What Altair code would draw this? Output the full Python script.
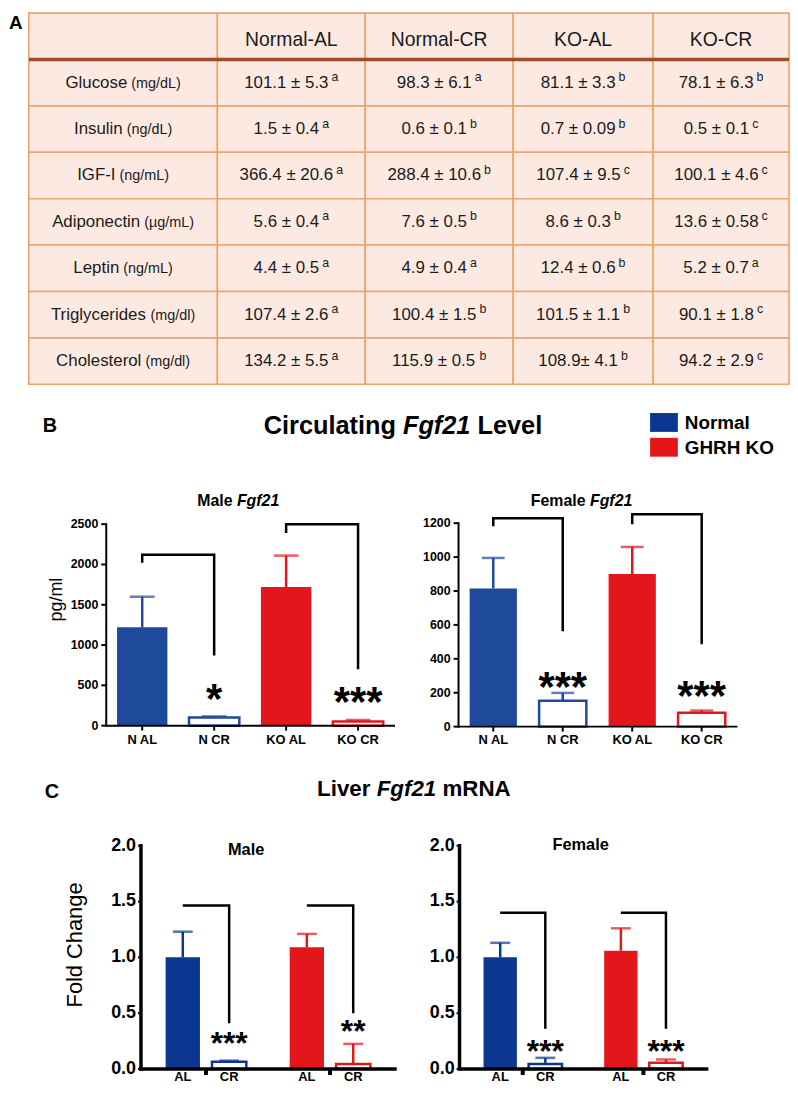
import altair as alt
import pandas as pd

# ---------------- data ----------------
table_columns = ["Normal-AL", "Normal-CR", "KO-AL", "KO-CR"]
measures = ["Glucose", "Insulin", "IGF-I", "Adiponectin", "Leptin", "Triglycerides", "Cholesterol"]
units = ["(mg/dL)", "(ng/dL)", "(ng/mL)", "(µg/mL)", "(ng/mL)", "(mg/dl)", "(mg/dl)"]
normal_al = ["101.1 ± 5.3", "1.5 ± 0.4", "366.4 ± 20.6", "5.6 ± 0.4", "4.4 ± 0.5", "107.4 ± 2.6", "134.2 ± 5.5"]
normal_al_sig = ["a", "a", "a", "a", "a", "a", "a"]
normal_cr = ["98.3 ± 6.1", "0.6 ± 0.1", "288.4 ± 10.6", "7.6 ± 0.5", "4.9 ± 0.4", "100.4 ± 1.5", "115.9 ± 0.5"]
normal_cr_sig = ["a", "b", "b", "b", "a", "b", "b"]
ko_al = ["81.1 ± 3.3", "0.7 ± 0.09", "107.4 ± 9.5", "8.6 ± 0.3", "12.4 ± 0.6", "101.5 ± 1.1", "108.9± 4.1"]
ko_al_sig = ["b", "b", "c", "b", "b", "b", "b"]
ko_cr = ["78.1 ± 6.3", "0.5 ± 0.1", "100.1 ± 4.6", "13.6 ± 0.58", "5.2 ± 0.7", "90.1 ± 1.8", "94.2 ± 2.9"]
ko_cr_sig = ["b", "c", "c", "c", "a", "c", "c"]

legend_labels = ["Normal", "GHRH KO"]

b_groups = ["N AL", "N CR", "KO AL", "KO CR"]
b_genotype = ["Normal", "Normal", "GHRH KO", "GHRH KO"]
b_diet = ["AL", "CR", "AL", "CR"]

male_b_mean = [1220, 100, 1720, 50]
male_b_sem = [380, 15, 390, 20]
male_b_stars = ["", "*", "", "***"]
male_b_star_level = [0, 455, 0, 419]
male_b_brackets = [("N AL", "N CR", 2120, 2020, 870), ("KO AL", "KO CR", 2500, 2390, 700)]
male_b_ticks = [0, 500, 1000, 1500, 2000, 2500]

female_b_mean = [815, 152, 900, 82]
female_b_sem = [180, 47, 160, 13]
female_b_stars = ["", "***", "", "***"]
female_b_star_level = [0, 292, 0, 240]
female_b_brackets = [("N AL", "N CR", 1229, 1182, 562), ("KO AL", "KO CR", 1253, 1194, 486)]
female_b_ticks = [0, 200, 400, 600, 800, 1000, 1200]

c_genotype = ["Normal", "Normal", "GHRH KO", "GHRH KO"]
c_diet = ["AL", "CR", "AL", "CR"]
male_c_mean = [1.0, 0.065, 1.09, 0.045]
male_c_sem = [0.23, 0.01, 0.12, 0.18]
male_c_stars = ["", "***", "", "**"]
male_c_star_level = [0, 0.29, 0, 0.40]
male_c_brackets = [("Normal", 1.465, 0.41), ("GHRH KO", 1.465, 0.50)]
female_c_mean = [1.0, 0.045, 1.06, 0.055]
female_c_sem = [0.13, 0.055, 0.20, 0.03]
female_c_stars = ["", "***", "", "***"]
female_c_star_level = [0, 0.22, 0, 0.22]
female_c_brackets = [("Normal", 1.40, 0.36), ("GHRH KO", 1.40, 0.36)]
c_ticks = [0, 0.5, 1.0, 1.5, 2.0]

# ---------------- layout / style ----------------
W, H = 788, 1080
FONT = "Liberation Sans"
BLUE_B = "#1F4A9C"
BLUE_C = "#0C3790"
RED = "#E3161C"
BG = "#FCEAE2"
BORDER = "#EFA36A"
BROWN = "#9E4D22"


def P(v):
    return v - 8


AR = {" ": 278, "(": 333, ")": 333, "-": 333, ".": 278, "/": 278, "±": 549, "µ": 576,
      "A": 667, "B": 667, "C": 722, "D": 722, "E": 667, "F": 611, "G": 778, "H": 722, "I": 278,
      "K": 667, "L": 556, "M": 833, "N": 722, "O": 778, "R": 722, "T": 611,
      "a": 556, "b": 556, "c": 500, "d": 556, "e": 556, "f": 278, "g": 556, "h": 556, "i": 222,
      "j": 222, "k": 500, "l": 222, "m": 833, "n": 556, "o": 556, "p": 556, "r": 333, "s": 500,
      "t": 278, "u": 556, "v": 500, "y": 500}
AB = {" ": 278, "-": 333, ".": 278, "A": 722, "C": 722, "F": 611, "G": 778, "H": 722, "K": 722,
      "L": 611, "M": 833, "N": 722, "O": 778, "R": 722,
      "a": 556, "c": 556, "e": 556, "f": 333, "g": 611, "i": 278, "l": 278, "m": 889, "n": 611,
      "o": 611, "r": 389, "t": 333, "u": 611, "v": 556}


def tw(s, size, bold=False):
    t = AB if bold else AR
    return sum(t.get(ch, 556) for ch in s) * size / 1000.0


ONE = pd.DataFrame({"k": [0]})


def txt(s, x, y, size, bold=False, italic=False, align="left", baseline="alphabetic", angle=None):
    kw = dict(text=s, fontSize=size, font=FONT, color="black", align=align, baseline=baseline,
              fontWeight="bold" if bold else "normal", fontStyle="italic" if italic else "normal")
    if angle is not None:
        kw["angle"] = angle
    return alt.Chart(ONE).mark_text(**kw).encode(x=alt.value(x), y=alt.value(y))


def rich(parts, cx, y, size):
    widths = [tw(s, size, True) for s, _ in parts]
    x = cx - sum(widths) / 2.0
    out = []
    for (s, it), w in zip(parts, widths):
        lead = len(s) - len(s.lstrip(" "))
        out.append(txt(s.strip(" "), x + tw(" " * lead, size, True), y, size, bold=True, italic=it))
        x += w
    return out


fill_b = alt.Scale(domain=legend_labels, range=[BLUE_B, RED])
fill_c = alt.Scale(domain=legend_labels, range=[BLUE_C, RED])

# ---------------- table (A) ----------------
col_w = [190, 149, 149, 141, 137]
edges = [0]
for w in col_w:
    edges.append(edges[-1] + w)
tx = alt.Scale(domain=[0, edges[-1]], range=[P(29), P(795)], nice=False, zero=False)
tbl_rows = ["_head"] + measures
ty = alt.Scale(domain=tbl_rows, range=[1, P(383)], paddingInner=0, paddingOuter=0)

cells = pd.DataFrame([{"row": r, "c0": edges[j], "c1": edges[j + 1]} for r in tbl_rows for j in range(5)])
t_rect = alt.Chart(cells).mark_rect(fill=BG, stroke=BORDER, strokeWidth=1.6).encode(
    x=alt.X("c0:Q", scale=tx, axis=None), x2="c1:Q", y=alt.Y("row:N", scale=ty, axis=None))
t_rule = alt.Chart(pd.DataFrame({"row": [measures[0]], "a": [0], "b": [edges[-1]]})).mark_rule(
    color=BROWN, strokeWidth=3.5).encode(
    x=alt.X("a:Q", scale=tx, axis=None), x2="b:Q",
    y=alt.Y("row:N", scale=ty, axis=None, bandPosition=0))

head_df = pd.DataFrame({"row": ["_head"] * 4, "x": [(edges[j + 1] + edges[j]) / 2 for j in range(1, 5)],
                        "t": table_columns})
t_head = alt.Chart(head_df).mark_text(fontSize=19.5, font=FONT, color="#1a1a1a", baseline="alphabetic",
                                       dy=10).encode(
    x=alt.X("x:Q", scale=tx, axis=None), y=alt.Y("row:N", scale=ty, axis=None), text="t:N")

NAME_FS, UNIT_FS, VAL_FS, SUP_FS = 17, 14.5, 17, 12.5
name_rows, unit_rows = [], []
c1 = (edges[0] + edges[1]) / 2
for m, u in zip(measures, units):
    wn, wu = tw(m, NAME_FS), tw(u, UNIT_FS)
    gap = 4
    start = c1 - (wn + gap + wu) / 2
    name_rows.append({"row": m, "x": start, "t": m})
    unit_rows.append({"row": m, "x": start + wn + gap, "t": u})
t_name = alt.Chart(pd.DataFrame(name_rows)).mark_text(fontSize=NAME_FS, font=FONT, color="#1a1a1a", align="left",
                                                       baseline="alphabetic", dy=5).encode(
    x=alt.X("x:Q", scale=tx, axis=None), y=alt.Y("row:N", scale=ty, axis=None), text="t:N")
t_unit = alt.Chart(pd.DataFrame(unit_rows)).mark_text(fontSize=UNIT_FS, font=FONT, color="#1a1a1a", align="left",
                                                       baseline="alphabetic", dy=5).encode(
    x=alt.X("x:Q", scale=tx, axis=None), y=alt.Y("row:N", scale=ty, axis=None), text="t:N")

val_rows, sup_rows = [], []
for j, (vals, sigs) in enumerate([(normal_al, normal_al_sig), (normal_cr, normal_cr_sig),
                                  (ko_al, ko_al_sig), (ko_cr, ko_cr_sig)]):
    cc = (edges[j + 1] + edges[j + 2]) / 2
    for m, v, s in zip(measures, vals, sigs):
        wv, ws = tw(v, VAL_FS), tw(s, SUP_FS)
        gap = 3
        start = cc - (wv + gap + ws) / 2
        val_rows.append({"row": m, "x": start, "t": v})
        sup_rows.append({"row": m, "x": start + wv + gap, "t": s})
t_val = alt.Chart(pd.DataFrame(val_rows)).mark_text(fontSize=VAL_FS, font=FONT, color="#1a1a1a", align="left",
                                                     baseline="alphabetic", dy=5).encode(
    x=alt.X("x:Q", scale=tx, axis=None), y=alt.Y("row:N", scale=ty, axis=None), text="t:N")
t_sup = alt.Chart(pd.DataFrame(sup_rows)).mark_text(fontSize=SUP_FS, font=FONT, color="#1a1a1a", align="left",
                                                     baseline="alphabetic", dy=-1.5).encode(
    x=alt.X("x:Q", scale=tx, axis=None), y=alt.Y("row:N", scale=ty, axis=None), text="t:N")

table = alt.layer(t_rect, t_rule, t_head, t_name, t_unit, t_val, t_sup)

# ---------------- legend ----------------
ly = alt.Scale(domain=legend_labels, range=[P(412), P(456)], paddingInner=0.24, paddingOuter=0)
leg_df = pd.DataFrame({"label": legend_labels})
leg_rect = alt.Chart(leg_df).mark_rect().encode(
    x=alt.value(P(655)), x2=alt.value(P(683)), y=alt.Y("label:N", scale=ly, axis=None),
    fill=alt.Fill("label:N", scale=fill_c, legend=None))
leg_text = alt.Chart(leg_df).mark_text(align="left", baseline="middle", fontSize=19, fontWeight="bold",
                                       font=FONT, dy=1).encode(
    x=alt.value(P(690)), y=alt.Y("label:N", scale=ly, axis=None), text="label:N")
legend = alt.layer(leg_rect, leg_text)


# ---------------- hand-built axes (through the panel scales) ----------------
def y_axis(ys, ticks, labels, x0, fs, dw, tsize, lpad):
    df = pd.DataFrame({"v": ticks, "lab": labels})
    ends = pd.DataFrame({"a": [ticks[0]], "b": [ticks[-1]]})
    dom = alt.Chart(ends).mark_rule(color="black", strokeWidth=dw, strokeCap="square").encode(
        x=alt.value(x0), y=alt.Y("a:Q", scale=ys, axis=None), y2="b:Q")
    tk = alt.Chart(df).mark_rule(color="black", strokeWidth=2).encode(
        x=alt.value(x0 - tsize), x2=alt.value(x0), y=alt.Y("v:Q", scale=ys, axis=None))
    lb = alt.Chart(df).mark_text(align="right", baseline="middle", fontSize=fs, fontWeight="bold",
                                 font=FONT, color="black").encode(
        x=alt.value(x0 - tsize - lpad), y=alt.Y("v:Q", scale=ys, axis=None), text="lab:N")
    return [dom, tk, lb]


def x_axis_line(ys, xr, dw):
    return alt.Chart(pd.DataFrame({"z": [0]})).mark_rule(color="black", strokeWidth=dw, strokeCap="square").encode(
        x=alt.value(xr[0]), x2=alt.value(xr[1]), y=alt.Y("z:Q", scale=ys, axis=None))


# ---------------- panel B ----------------
def b_panel(means, sems, stars, star_lvl, brackets, ymax, yticks, xr, yr, pin, pout, cap):
    df = pd.DataFrame({"grp": b_groups, "genotype": b_genotype, "diet": b_diet,
                       "mean": means, "sem": sems, "star": stars, "slvl": star_lvl})
    df["upper"] = df["mean"] + df["sem"]
    xs = alt.Scale(domain=b_groups, range=xr, paddingInner=pin, paddingOuter=pout)
    ys = alt.Scale(domain=[0, ymax], range=yr, nice=False, zero=True)
    Xn = alt.X("grp:N", scale=xs, axis=None)
    base = alt.Chart(df)
    al = base.transform_filter("datum.diet == 'AL'").mark_bar().encode(
        x=Xn, y=alt.Y("mean:Q", scale=ys, axis=None),
        fill=alt.Fill("genotype:N", scale=fill_b, legend=None))
    cr = base.transform_filter("datum.diet == 'CR'").mark_bar(fill="white", strokeWidth=2.5).encode(
        x=Xn, y=alt.Y("mean:Q", scale=ys, axis=None),
        stroke=alt.Stroke("genotype:N", scale=fill_b, legend=None))
    stem = base.mark_rule(strokeWidth=2.5).encode(
        x=Xn, y=alt.Y("mean:Q", scale=ys, axis=None), y2="upper:Q",
        color=alt.Color("genotype:N", scale=fill_b, legend=None))
    capm = base.mark_tick(orient="horizontal", size=cap, thickness=2.5).encode(
        x=Xn, y=alt.Y("upper:Q", scale=ys, axis=None),
        color=alt.Color("genotype:N", scale=fill_b, legend=None))
    st = base.mark_text(fontSize=42, fontWeight="bold", font=FONT, baseline="alphabetic", dy=24).encode(
        x=Xn, y=alt.Y("slvl:Q", scale=ys, axis=None), text="star:N")
    rows = []
    for i, (l, r, top, ld, rb) in enumerate(brackets):
        rows += [{"b": i, "o": 0, "g": l, "v": ld}, {"b": i, "o": 1, "g": l, "v": top},
                 {"b": i, "o": 2, "g": r, "v": top}, {"b": i, "o": 3, "g": r, "v": rb}]
    br = alt.Chart(pd.DataFrame(rows)).mark_line(color="black", strokeWidth=2.5).encode(
        x=alt.X("g:N", scale=xs, axis=None), y=alt.Y("v:Q", scale=ys, axis=None),
        detail="b:N", order="o:Q")
    xt = base.mark_rule(color="black", strokeWidth=2).encode(
        x=Xn, y=alt.value(yr[0]), y2=alt.value(yr[0] + 5))
    xl = base.mark_text(fontSize=13, fontWeight="bold", font=FONT, baseline="alphabetic", color="black").encode(
        x=Xn, y=alt.value(yr[0] + 18), text="grp:N")
    yax = y_axis(ys, yticks, [str(t) for t in yticks], xr[0], 12.5, 2, 5, 3)
    return alt.layer(al, cr, stem, capm, br, st, x_axis_line(ys, xr, 2), xt, xl, *yax)


male_b = b_panel(male_b_mean, male_b_sem, male_b_stars, male_b_star_level, male_b_brackets, 2500,
                 male_b_ticks, [P(107), P(397)], [P(727), P(524)], 0.3, 0.15, 25)
female_b = b_panel(female_b_mean, female_b_sem, female_b_stars, female_b_star_level, female_b_brackets, 1200,
                   female_b_ticks, [P(462), P(742)], [P(728), P(523)], 0.32, 0.16, 23)


# ---------------- panel C ----------------
def c_panel(means, sems, stars, star_lvl, brackets, xr, yr):
    df = pd.DataFrame({"genotype": c_genotype, "diet": c_diet, "mean": means, "sem": sems,
                       "star": stars, "slvl": star_lvl})
    df["upper"] = df["mean"] + df["sem"]
    xs = alt.Scale(domain=legend_labels, range=xr, paddingInner=0.2, paddingOuter=0.124)
    xo = alt.Scale(domain=["AL", "CR"], paddingInner=0.26, paddingOuter=0.2)
    ys = alt.Scale(domain=[0, 2], range=yr, nice=False, zero=True)
    Xn = alt.X("genotype:N", scale=xs, axis=None)
    XO = alt.XOffset("diet:N", scale=xo)
    base = alt.Chart(df)
    al = base.transform_filter("datum.diet == 'AL'").mark_bar().encode(
        x=Xn, xOffset=XO, y=alt.Y("mean:Q", scale=ys, axis=None),
        fill=alt.Fill("genotype:N", scale=fill_c, legend=None))
    cr = base.transform_filter("datum.diet == 'CR'").mark_bar(fill="white", strokeWidth=2.5).encode(
        x=Xn, xOffset=XO, y=alt.Y("mean:Q", scale=ys, axis=None),
        stroke=alt.Stroke("genotype:N", scale=fill_c, legend=None))
    stem = base.mark_rule(strokeWidth=2.5).encode(
        x=Xn, xOffset=XO, y=alt.Y("mean:Q", scale=ys, axis=None), y2="upper:Q",
        color=alt.Color("genotype:N", scale=fill_c, legend=None))
    capm = base.mark_tick(orient="horizontal", size=20, thickness=2.5).encode(
        x=Xn, xOffset=XO, y=alt.Y("upper:Q", scale=ys, axis=None),
        color=alt.Color("genotype:N", scale=fill_c, legend=None))
    st = base.mark_text(fontSize=32, fontWeight="bold", font=FONT, baseline="alphabetic", dy=18).encode(
        x=Xn, xOffset=XO, y=alt.Y("slvl:Q", scale=ys, axis=None), text="star:N")
    lab = base.mark_text(fontSize=13, fontWeight="bold", font=FONT, baseline="bottom").encode(
        x=Xn, xOffset=XO, y=alt.value(H), text="diet:N")
    rows = []
    for i, (g, top, rb) in enumerate(brackets):
        rows += [{"b": i, "o": 0, "g": g, "d": "AL", "v": top},
                 {"b": i, "o": 1, "g": g, "d": "CR", "v": top},
                 {"b": i, "o": 2, "g": g, "d": "CR", "v": rb}]
    br = alt.Chart(pd.DataFrame(rows)).mark_line(color="black", strokeWidth=2.5).encode(
        x=alt.X("g:N", scale=xs, axis=None), xOffset=alt.XOffset("d:N", scale=xo),
        y=alt.Y("v:Q", scale=ys, axis=None), detail="b:N", order="o:Q")
    gdf = pd.DataFrame({"genotype": legend_labels})
    dots = alt.Chart(gdf).mark_rule(color="black", strokeWidth=4).encode(
        x=Xn, y=alt.value(yr[0]), y2=alt.value(yr[0] + 6))
    yax = y_axis(ys, c_ticks, ["%.1f" % t for t in c_ticks], xr[0], 18, 3.5, 3, 2)
    return alt.layer(al, cr, stem, capm, br, st, lab, x_axis_line(ys, xr, 3.5), dots, *yax)


male_c = c_panel(male_c_mean, male_c_sem, male_c_stars, male_c_star_level, male_c_brackets,
                 [P(142), P(398)], [P(1073), P(848)])
female_c = c_panel(female_c_mean, female_c_sem, female_c_stars, female_c_star_level, female_c_brackets,
                   [P(463), P(712)], [P(1073), P(848)])

# ---------------- titles & labels ----------------
texts = [
    txt("A", 1, 17, 19, bold=True),
    txt("B", P(43), P(431), 20, bold=True),
    txt("C", P(45), P(800), 20, bold=True),
    txt("pg/ml", P(57), P(600), 18, align="center", baseline="middle", angle=270),
    txt("Fold Change", P(76), P(948), 22, align="center", baseline="middle", angle=270),
]
texts += rich([("Circulating ", False), ("Fgf21", True), (" Level", False)], P(406), P(433), 25.5)
texts += rich([("Liver ", False), ("Fgf21", True), (" mRNA", False)], P(417), P(798), 22.5)
texts += rich([("Male ", False), ("Fgf21", True)], P(240), P(506), 16)
texts += rich([("Female ", False), ("Fgf21", True)], P(586), P(506), 16)
texts += rich([("Male", False)], P(248), P(857), 16.5)
texts += rich([("Female", False)], P(585), P(852), 16.5)

chart = alt.layer(table, legend, male_b, female_b, male_c, female_c, *texts).resolve_scale(
    x="independent", y="independent", xOffset="independent",
    fill="independent", stroke="independent", color="independent"
).properties(
    width=W, height=H, padding=0, autosize=alt.AutoSizeParams(type="none")
).configure_view(stroke=None)

chart.save("out.html", embed_options={"renderer": "svg", "actions": False})
